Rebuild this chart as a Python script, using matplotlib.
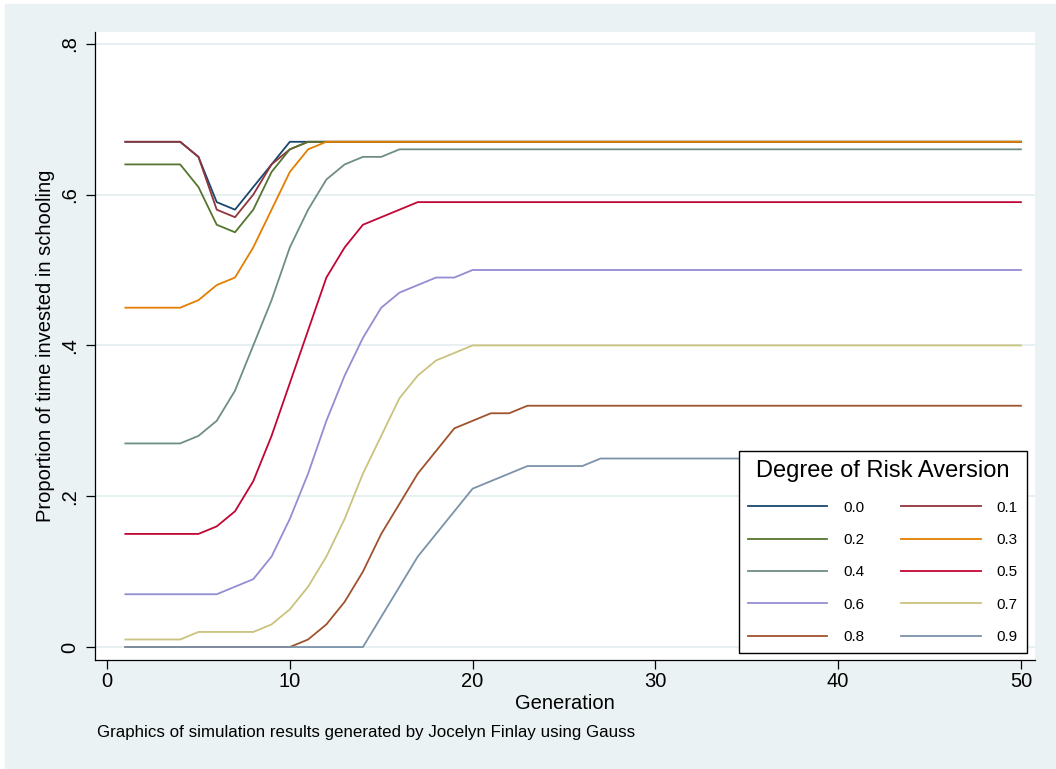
import matplotlib
matplotlib.use('Agg')
import matplotlib.pyplot as plt
from matplotlib.patches import Rectangle
import numpy as np

plt.rcParams['font.family'] = ['Liberation Sans', 'DejaVu Sans']

######## DATA ########
generation = list(range(1, 51))

risk_labels = ['0.0', '0.1', '0.2', '0.3', '0.4', '0.5', '0.6', '0.7', '0.8', '0.9']

ra_00 = [0.67] * 4 + [0.65, 0.59, 0.58, 0.61, 0.64] + [0.67] * 41
ra_01 = [0.67] * 4 + [0.65, 0.58, 0.57, 0.60, 0.64, 0.66] + [0.67] * 40
ra_02 = [0.64] * 4 + [0.61, 0.56, 0.55, 0.58, 0.63, 0.66] + [0.67] * 40
ra_03 = [0.45] * 4 + [0.46, 0.48, 0.49, 0.53, 0.58, 0.63, 0.66] + [0.67] * 39
ra_04 = [0.27] * 4 + [0.28, 0.30, 0.34, 0.40, 0.46, 0.53, 0.58, 0.62, 0.64,
                      0.65, 0.65] + [0.66] * 35
ra_05 = [0.15] * 5 + [0.16, 0.18, 0.22, 0.28, 0.35, 0.42, 0.49, 0.53, 0.56,
                      0.57, 0.58] + [0.59] * 34
ra_06 = [0.07] * 6 + [0.08, 0.09, 0.12, 0.17, 0.23, 0.30, 0.36, 0.41, 0.45,
                      0.47, 0.48, 0.49, 0.49] + [0.50] * 31
ra_07 = [0.01] * 4 + [0.02] * 4 + [0.03, 0.05, 0.08, 0.12, 0.17, 0.23, 0.28,
                                   0.33, 0.36, 0.38, 0.39] + [0.40] * 31
ra_08 = [0.0] * 10 + [0.01, 0.03, 0.06, 0.10, 0.15, 0.19, 0.23, 0.26, 0.29,
                      0.30, 0.31, 0.31] + [0.32] * 28
ra_09 = [0.0] * 14 + [0.04, 0.08, 0.12, 0.15, 0.18, 0.21, 0.22, 0.23,
                      0.24, 0.24, 0.24, 0.24] + [0.25] * 24

series = [ra_00, ra_01, ra_02, ra_03, ra_04, ra_05, ra_06, ra_07, ra_08, ra_09]

# stata s2color
colors = ['#1a476f', '#90353b', '#55752f', '#e37e00', '#6e8e84',
          '#c10534', '#938dd2', '#cac27e', '#a0522d', '#7b92a8']

yticks = [0, 0.2, 0.4, 0.6, 0.8]
ytick_labels = ['0', '.2', '.4', '.6', '.8']
xticks = [0, 10, 20, 30, 40, 50]

######## FIGURE ########
W, H = 1056, 769
fig = plt.figure(figsize=(W / 100, H / 100), dpi=100, facecolor='white')
# graph region background
fig.patches.append(Rectangle((5 / W, 0), 1 - 5 / W, 1 - 4 / H,
                             transform=fig.transFigure, color='#eaf2f3',
                             zorder=-10))

ax = fig.add_axes([95 / W, 1 - 660 / H, 940 / W, 628 / H])
ax.set_facecolor('white')

lines = []
for y, lab, c in zip(series, risk_labels, colors):
    ln, = ax.plot(generation, y, color=c, lw=1.3, label=lab)
    lines.append(ln)

ax.set_xlim(-0.66, 50.77)
ax.set_ylim(-0.0172, 0.8156)

ax.set_yticks(yticks)
ax.set_yticklabels(ytick_labels)
ax.set_xticks(xticks)
ax.grid(axis='y', color='#e4eef0', lw=1.3)
ax.set_axisbelow(True)

for s in ['top', 'right']:
    ax.spines[s].set_visible(False)
for s in ['left', 'bottom']:
    ax.spines[s].set_color('black')
    ax.spines[s].set_linewidth(0.9)

ax.tick_params(axis='both', direction='out', length=6.5, width=0.9,
               colors='black', labelsize=14.5)
ax.tick_params(axis='y', labelrotation=90, pad=5)
ax.tick_params(axis='x', pad=2)
for t in ax.get_yticklabels():
    t.set_va('center')

ax.set_ylabel('Proportion of time invested in schooling', fontsize=14.5)
ax.yaxis.set_label_coords(-0.0426, 0.5)
ax.set_xlabel('Generation', fontsize=14.5)
ax.xaxis.set_label_coords(0.5, -0.054)

# legend filled row by row like stata
order = [0, 2, 4, 6, 8, 1, 3, 5, 7, 9]
leg = ax.legend([lines[i] for i in order], [risk_labels[i] for i in order],
                ncol=2, title='Degree of Risk Aversion', fontsize=11,
                title_fontsize=17, loc='lower right',
                bbox_to_anchor=(0.9915, 0.0111), borderaxespad=0,
                frameon=True, fancybox=False, framealpha=1,
                edgecolor='black', handlelength=5.2, handletextpad=1.05,
                columnspacing=2.4, labelspacing=1.2, borderpad=0.6)
leg.get_frame().set_linewidth(1.0)

fig.text(97 / W, 1 - 737 / H,
         'Graphics of simulation results generated by Jocelyn Finlay using Gauss',
         fontsize=12.2, va='baseline', ha='left')

fig.savefig('out.png', dpi=100)
